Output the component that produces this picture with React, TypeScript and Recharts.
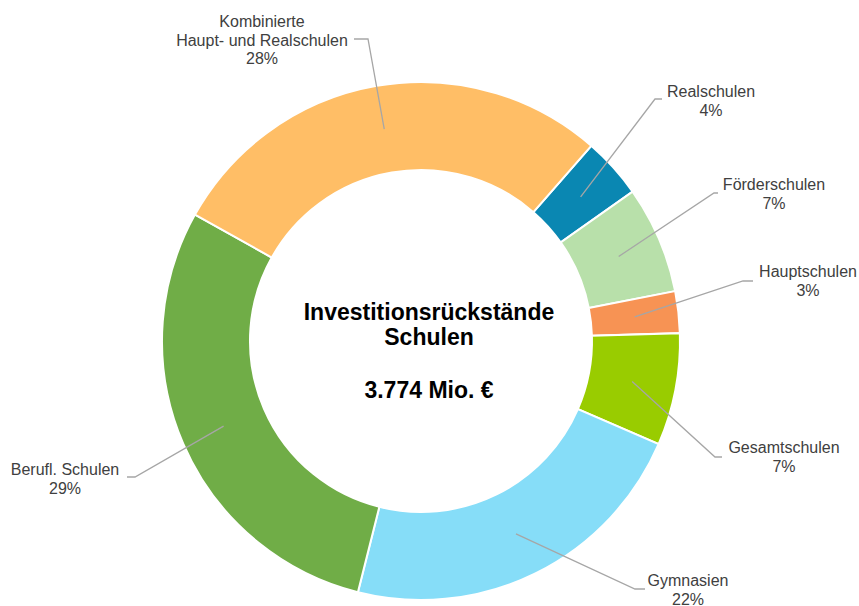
import React from 'react';
import { PieChart, Pie, Cell } from 'recharts';

// Slices in clockwise order, starting at the Realschulen slice
const schoolTypes = [
  'Realschulen',
  'Förderschulen',
  'Hauptschulen',
  'Gesamtschulen',
  'Gymnasien',
  'Berufl. Schulen',
  'Kombinierte\nHaupt- und Realschulen',
];
// share of total backlog in percent
const shares = [3.8, 6.7, 2.6, 7.0, 22.4, 29.2, 28.3];
const sliceColors = ['#0A87B2', '#B8E0AA', '#F79354', '#99CC00', '#86DDF8', '#70AD47', '#FFBE66'];

const centerTitle = ['Investitionsrückstände', 'Schulen'];
const centerTotal = '3.774 Mio. €';

const data = schoolTypes.map((name, i) => ({ name, value: shares[i] }));

// leader line end, hook end and text anchor, relative to the pie centre
const labelLayout = [
  { ex: 234, ey: -242, hx: 241, tx: 290, ty: -244 },
  { ex: 293, ey: -148, hx: 297, tx: 353, ty: -151 },
  { ex: 322, ey: -60, hx: 332, tx: 387, ty: -64 },
  { ex: 294, ey: 116, hx: 301, tx: 363, ty: 112 },
  { ex: 214, ey: 248, hx: 224, tx: 267, ty: 245 },
  { ex: -286, ey: 136, hx: -294, tx: -356, ty: 134 },
  { ex: -53, ey: -302, hx: -67, tx: -159, ty: -314 },
];

const FONT = '"Liberation Sans", Arial, sans-serif';
const RAD = Math.PI / 180;

const renderLabel = (props: any) => {
  const { cx, cy, midAngle, index, percent } = props;
  const lay = labelLayout[index];
  const r = 215;
  const sx = cx + r * Math.cos(-midAngle * RAD);
  const sy = cy + r * Math.sin(-midAngle * RAD);
  const lines = [...schoolTypes[index].split('\n'), `${Math.round(percent * 100)}%`];
  return (
    <g key={`lbl-${index}`}>
      <polyline
        points={`${sx},${sy} ${cx + lay.ex},${cy + lay.ey} ${cx + lay.hx},${cy + lay.ey}`}
        fill="none"
        stroke="#A6A6A6"
        strokeWidth={1.3}
      />
      <text x={cx + lay.tx} y={cy + lay.ty} textAnchor="middle" fill="#404040" fontSize={16} fontFamily={FONT}>
        {lines.map((l, i) => (
          <tspan key={i} x={cx + lay.tx} dy={i === 0 ? 0 : 18.5}>
            {l}
          </tspan>
        ))}
      </text>
    </g>
  );
};

export default function App() {
  return (
    <div style={{ position: 'absolute', left: 0, top: 0, width: 859, height: 606, background: '#fff' }}>
      <PieChart width={859} height={606} margin={{ top: 0, right: 0, bottom: 0, left: 0 }}>
        <Pie
          data={data}
          dataKey="value"
          nameKey="name"
          cx={421}
          cy={341}
          innerRadius={171}
          outerRadius={259}
          startAngle={48.9}
          endAngle={-311.1}
          stroke="#ffffff"
          strokeWidth={2}
          label={renderLabel}
          labelLine={false}
          isAnimationActive={false}
        >
          {data.map((d, i) => (
            <Cell key={d.name} fill={sliceColors[i]} />
          ))}
        </Pie>
        <text x={429} y={320} textAnchor="middle" fontSize={23} fontWeight="bold" fill="#000" fontFamily={FONT}>
          {centerTitle[0]}
        </text>
        <text x={429} y={345} textAnchor="middle" fontSize={23} fontWeight="bold" fill="#000" fontFamily={FONT}>
          {centerTitle[1]}
        </text>
        <text x={429} y={398} textAnchor="middle" fontSize={23} fontWeight="bold" fill="#000" fontFamily={FONT}>
          {centerTotal}
        </text>
      </PieChart>
    </div>
  );
}
